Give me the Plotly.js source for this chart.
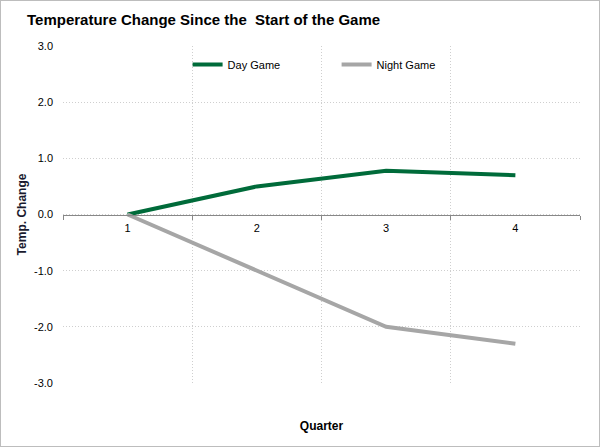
<!DOCTYPE html>
<html>
<head>
<meta charset="utf-8">
<script src="https://cdn.plot.ly/plotly-3.0.1.min.js"></script>
<style>
  html, body { margin: 0; padding: 0; background: #fff; }
  #chart { width: 600px; height: 447px; box-sizing: border-box; border: 1px solid #bdbdbd; }
</style>
</head>
<body>
<div id="chart"></div>
<script>
const quarters = [1, 2, 3, 4];
const quarterLabels = ['1', '2', '3', '4'];
const dayGame = [0, 0.5, 0.78, 0.7];
const nightGame = [0, -1.0, -2.0, -2.3];
const yTickVals = [-3, -2, -1, 0, 1, 2, 3];
const yTickLabels = ['-3.0', '-2.0', '-1.0', '0.0', '1.0', '2.0', '3.0'];

const traces = [
  { x: quarters, y: dayGame, name: 'Day Game', type: 'scatter', mode: 'lines',
    line: { color: '#006b3a', width: 4 } },
  { x: quarters, y: nightGame, name: 'Night Game', type: 'scatter', mode: 'lines',
    line: { color: '#a6a6a6', width: 4 } },
  { x: [1], y: [0], xaxis: 'x2', mode: 'markers', marker: { opacity: 0 }, showlegend: false, hoverinfo: 'skip' }
];

const dotted = '1px,2px';

const layout = {
  width: 598, height: 445,
  margin: { l: 62, r: 19, t: 45, b: 63 },
  paper_bgcolor: '#fff', plot_bgcolor: '#fff',
  font: { family: 'Liberation Sans, Arial, sans-serif', size: 11, color: '#000' },
  title: { text: '<b>Temperature Change Since the  Start of the Game</b>',
    font: { size: 15, color: '#000' }, x: 0, xref: 'paper', xanchor: 'left', y: 0.97, yref: 'container',
    pad: { l: -36 } },
  showlegend: true,
  legend: { orientation: 'h', x: 0.241, y: 0.945, xanchor: 'left', yanchor: 'middle',
    entrywidth: 104, entrywidthmode: 'pixels', font: { size: 11, color: '#000' },
    bgcolor: 'rgba(0,0,0,0)', itemwidth: 30 },
  xaxis: {
    range: [0.5, 4.5], tickvals: quarters, ticktext: quarterLabels, ticks: '',
    showgrid: false, zeroline: false, anchor: 'free', position: 0.5,
    showline: true, linecolor: '#888', linewidth: 1, ticklabelstandoff: 3,
    tickfont: { size: 11, color: '#000' },
    minor: { tick0: 0.5, dtick: 1, showgrid: true, gridcolor: '#cfcfcf', griddash: dotted, gridwidth: 1,
      ticks: 'outside', ticklen: 4, tickcolor: '#888' },
    title: { text: '' }
  },
  xaxis2: {
    overlaying: 'x', range: [0.5, 4.5], showticklabels: false, showgrid: false, zeroline: false,
    anchor: 'y', side: 'bottom',
    title: { text: '<b>Quarter</b>', font: { size: 12, color: '#000' }, standoff: 38 }
  },
  yaxis: {
    range: [-3, 3], tickvals: yTickVals, ticktext: yTickLabels, showgrid: true, gridcolor: '#cfcfcf', griddash: dotted,
    zeroline: false, showline: false, ticks: '', ticklen: 0, ticklabelstandoff: 9,
    tickfont: { size: 11, color: '#000' },
    title: { text: '<b>Temp. Change</b>', font: { size: 12, color: '#1a1a2e' }, standoff: 4 }
  }
};

Plotly.newPlot('chart', traces, layout, { displayModeBar: false, staticPlot: true });
</script>
</body>
</html>
